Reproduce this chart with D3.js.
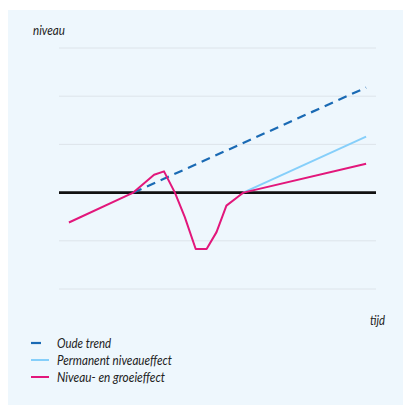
<!DOCTYPE html>
<html>
<head>
<meta charset="utf-8">
<script src="https://cdn.jsdelivr.net/npm/d3@7"></script>
<style>
  html, body { margin: 0; padding: 0; background: #ffffff; }
  svg { display: block; }
  text { font-family: Lato, "Open Sans", sans-serif; font-style: italic; fill: #222; }
</style>
</head>
<body>
<script>
// Time axis (arbitrary units) and level values for each scenario
const yTicks = [-2, -1, 0, 1, 2, 3];

const oudeTrendT = [6.5, 30];
const oudeTrendY = [0, 2.18];

const permanentT = [17.6, 30];
const permanentY = [0, 1.16];

const groeiT = [0, 6.5, 8.6, 9.6, 10.7, 11.7, 12.8, 13.9, 14.9, 15.9, 17.1, 17.6, 30];
const groeiY = [-0.62, 0, 0.37, 0.44, 0, -0.51, -1.17, -1.17, -0.82, -0.27, -0.08, 0, 0.6];

const seriesNames = ["Oude trend", "Permanent niveaueffect", "Niveau- en groeieffect"];
const seriesColors = ["#1a6ab4", "#86cffa", "#e2177b"];
const legendWidths = [54, 115, 108];

const W = 403, H = 405;
const svg = d3.select("body").append("svg").attr("width", W).attr("height", H);

// Panel background
svg.append("rect").attr("x", 8).attr("y", 10).attr("width", W - 8).attr("height", H - 10)
  .attr("fill", "#eef7fd");

const x = d3.scaleLinear().domain([-1, 31]).range([59, 376]);
const y = d3.scaleLinear().domain([-2, 3]).range([289, 48]);

// Horizontal grid lines
svg.append("g").selectAll("line").data(yTicks.filter(v => v !== 0)).join("line")
  .attr("x1", x(-1)).attr("x2", x(31))
  .attr("y1", d => y(d)).attr("y2", d => y(d))
  .attr("stroke", "#dde4ea").attr("stroke-width", 1);

// Zero line
svg.append("line")
  .attr("x1", x(-1)).attr("x2", x(31)).attr("y1", y(0)).attr("y2", y(0))
  .attr("stroke", "#111").attr("stroke-width", 2.6);

const line = d3.line().x(d => x(d[0])).y(d => y(d[1]));
const zip = (a, b) => a.map((v, i) => [v, b[i]]);

svg.append("path").datum(zip(permanentT, permanentY)).attr("d", line)
  .attr("fill", "none").attr("stroke", seriesColors[1]).attr("stroke-width", 2);

svg.append("path").datum(zip(oudeTrendT, oudeTrendY)).attr("d", line)
  .attr("fill", "none").attr("stroke", seriesColors[0]).attr("stroke-width", 2.2)
  .attr("stroke-dasharray", "9,6");

svg.append("path").datum(zip(groeiT, groeiY)).attr("d", line)
  .attr("fill", "none").attr("stroke", seriesColors[2]).attr("stroke-width", 2)
  .attr("stroke-linejoin", "round");

// Axis titles (condensed italic lettering)
svg.append("text").attr("x", 33).attr("y", 35).attr("font-size", 13.5)
  .attr("textLength", 32).attr("lengthAdjust", "spacingAndGlyphs").text("niveau");
svg.append("text").attr("x", 370).attr("y", 325).attr("font-size", 13.5)
  .attr("textLength", 15).attr("lengthAdjust", "spacingAndGlyphs").text("tijd");

// Legend
const legend = svg.append("g");
const ly = [343, 360, 377];
seriesNames.forEach((name, i) => {
  legend.append("line")
    .attr("x1", 31).attr("x2", i === 0 ? 41 : 49)
    .attr("y1", ly[i]).attr("y2", ly[i])
    .attr("stroke", seriesColors[i]).attr("stroke-width", i === 0 ? 2.2 : 2);
  legend.append("text").attr("x", 57).attr("y", ly[i] + 5).attr("font-size", 13.5)
    .attr("textLength", legendWidths[i]).attr("lengthAdjust", "spacingAndGlyphs")
    .text(name);
});
</script>
</body>
</html>
